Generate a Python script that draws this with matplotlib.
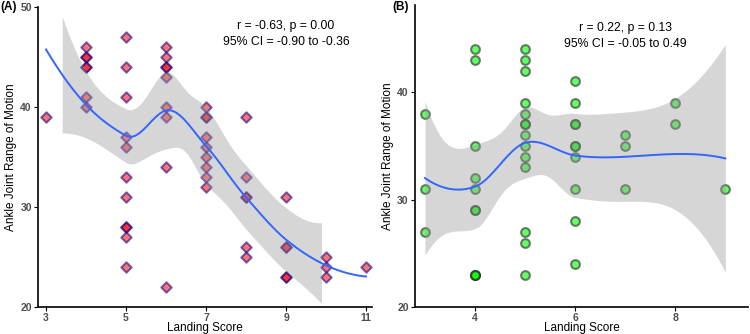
import numpy as np
import matplotlib
import matplotlib.pyplot as plt
from math import lgamma, pi, sqrt, exp

matplotlib.use('Agg')
plt.rcParams['font.family'] = ['Liberation Sans', 'DejaVu Sans']

# panel A: landing score vs ankle joint ROM
score_a = [3,
           4, 4, 4, 4, 4, 4, 4,
           5, 5, 5, 5, 5, 5, 5, 5, 5, 5, 5,
           6, 6, 6, 6, 6, 6, 6, 6, 6,
           7, 7, 7, 7, 7, 7, 7, 7, 7,
           8, 8, 8, 8, 8, 8,
           9, 9, 9, 9, 9,
           10, 10, 10,
           11]
rom_a = [39,
         46, 45, 45, 44, 44, 41, 40,
         47, 44, 41, 37, 36, 33, 31, 28, 28, 27, 24,
         46, 45, 44, 44, 43, 40, 39, 34, 22,
         40, 39, 39, 37, 36, 35, 34, 33, 32,
         39, 33, 31, 31, 26, 25,
         31, 26, 26, 23, 23,
         25, 24, 23,
         24]

# panel B
score_b = [3, 3, 3,
           4, 4, 4, 4, 4, 4, 4, 4, 4, 4,
           5, 5, 5, 5, 5, 5, 5, 5, 5, 5, 5, 5, 5, 5,
           6, 6, 6, 6, 6, 6, 6, 6, 6, 6,
           7, 7, 7,
           8, 8,
           9]
rom_b = [38, 31, 27,
         44, 43, 35, 32, 31, 29, 29, 23, 23, 23,
         44, 43, 42, 39, 38, 37, 37, 36, 35, 34, 33, 27, 26, 23,
         41, 39, 37, 37, 35, 35, 34, 31, 28, 24,
         36, 35, 31,
         39, 37,
         31]

stats_a = ['r = -0.63, p = 0.00', '95% CI = -0.90 to -0.36']
stats_b = ['r = 0.22, p = 0.13', '95% CI = -0.05 to 0.49']


def t_ppf(p, df):
    c = exp(lgamma((df + 1) / 2) - lgamma(df / 2)) / sqrt(df * pi)

    def cdf(t):
        g = np.linspace(0, t, 2001)
        return 0.5 + np.trapezoid(c * (1 + g ** 2 / df) ** (-(df + 1) / 2), g)
    lo, hi = 0.0, 20.0
    for _ in range(60):
        mid = (lo + hi) / 2
        if cdf(mid) < p:
            lo = mid
        else:
            hi = mid
    return (lo + hi) / 2


def kd_vertices(x, fc):
    # 1-d version of the loess kd tree: cells split at a tie-free median value
    xs = np.sort(x)
    mg = 0.005 * (xs[-1] - xs[0])
    verts = [xs[0] - mg, xs[-1] + mg]

    def split(l, u, vlo, vhi):
        if u - l + 1 <= fc:
            return
        m = (l + u + 2) // 2 - 1
        off = 0
        while not (m + off >= u or m + off < l):
            if xs[m + off] == xs[m + off + 1]:
                off = -off
                if off >= 0:
                    off += 1
            else:
                m = m + off
                break
        t = xs[m]
        if t == vlo or t == vhi:
            return
        verts.append(t)
        split(l, m, vlo, t)
        split(m + 1, u, t, vhi)

    split(0, len(xs) - 1, verts[0], verts[1])
    return np.unique(verts)


def loess(x, y, span=0.75):
    # loess (degree 2, tricube) with interpolated surface, like geom_smooth
    x = np.asarray(x, float)
    y = np.asarray(y, float)
    n = len(x)
    q = int(np.floor(n * span))

    def local(x0):
        d = np.abs(x - x0)
        h = np.sort(d)[q - 1] * 1.0001
        u = d / h
        w = np.where(u < 1, (1 - u ** 3) ** 3, 0.0)
        X = np.column_stack([np.ones(n), x - x0, (x - x0) ** 2])
        XtW = X.T * w
        B = np.linalg.solve(XtW @ X, XtW)
        return B[0], B[1]

    vt = kd_vertices(x, int(np.floor(n * span * 0.2)))
    rv, rs = zip(*[local(v) for v in vt])

    def row(x0):
        i = min(max(np.searchsorted(vt, x0) - 1, 0), len(vt) - 2)
        h = vt[i + 1] - vt[i]
        t = (x0 - vt[i]) / h
        return ((2 * t ** 3 - 3 * t ** 2 + 1) * rv[i] + (t ** 3 - 2 * t ** 2 + t) * h * rs[i]
                + (-2 * t ** 3 + 3 * t ** 2) * rv[i + 1] + (t ** 3 - t ** 2) * h * rs[i + 1])

    L = np.array([row(v) for v in x])
    res = y - L @ y
    M = (np.eye(n) - L).T @ (np.eye(n) - L)
    d1 = np.trace(M)
    d2 = np.trace(M @ M)
    s = sqrt(np.sum(res ** 2) / d1)
    tq = t_ppf(0.975, d1 ** 2 / d2)
    xs = np.linspace(x.min(), x.max(), 80)
    rows = np.array([row(v) for v in xs])
    fit = rows @ y
    se = s * np.sqrt(np.sum(rows ** 2, axis=1))
    return xs, fit, fit - tq * se, fit + tq * se


fig = plt.figure(figsize=(7.5, 3.34), dpi=100)
ax1 = fig.add_axes([0.0507, 0.0808, 0.4453, 0.898])
ax2 = fig.add_axes([0.5533, 0.0808, 0.4445, 0.904])

# A
ax1.scatter(score_a, rom_a, marker='D', s=28, facecolor=(1, 0, 0, 0.55),
            edgecolor=(0.1, 0.05, 0.55, 0.6), linewidth=1.5, zorder=2)
xs, fit, lo, hi = loess(score_a, rom_a)
ok = (hi <= 50) & (lo >= 20)
ax1.fill_between(xs, lo, hi, where=ok, color='#999999', alpha=0.4, lw=0, zorder=3)
ax1.plot(xs, fit, color='#3366FF', lw=1.4, zorder=4)
ax1.set_xlim(2.8, 11.15)
ax1.set_ylim(20, 50)
ax1.set_xticks([3, 5, 7, 9, 11])
ax1.set_yticks([20, 30, 40, 50])
ax1.text(9, 48.1, stats_a[0], ha='center', va='center', fontsize=8.8)
ax1.text(9, 46.5, stats_a[1], ha='center', va='center', fontsize=8.8)

# B
ax2.scatter(score_b, rom_b, marker='o', s=40, facecolor=(0, 1, 0, 0.6),
            edgecolor=(0.15, 0.15, 0.15, 0.6), linewidth=1.5, zorder=2)
xs, fit, lo, hi = loess(score_b, rom_b)
ax2.fill_between(xs, lo, hi, color='#999999', alpha=0.4, lw=0, zorder=3)
ax2.plot(xs, fit, color='#3366FF', lw=1.4, zorder=4)
ax2.set_xlim(2.8, 9.46)
ax2.set_ylim(20, 48.1)
ax2.set_xticks([4, 6, 8])
ax2.set_yticks([20, 30, 40])
ax2.text(7, 46.0, stats_b[0], ha='center', va='center', fontsize=8.8)
ax2.text(7, 44.5, stats_b[1], ha='center', va='center', fontsize=8.8)

for ax in (ax1, ax2):
    for side in ('top', 'right'):
        ax.spines[side].set_visible(False)
    for side in ('left', 'bottom'):
        ax.spines[side].set_linewidth(1.2)
    ax.tick_params(length=3, width=0.8, labelsize=7.5, labelcolor='#4D4D4D', pad=1.5)
    for lab in ax.get_xticklabels() + ax.get_yticklabels():
        lab.set_fontweight('bold')
    ax.set_xlabel('Landing Score', fontsize=8.5)
    ax.set_ylabel('Ankle Joint Range of Motion', fontsize=8.5)
    ax.xaxis.set_label_coords(0.5, -0.05)
    ax.yaxis.set_label_coords(-0.062, 0.5)

fig.text(0.001, 1 - 7 / 334, '(A)', fontsize=8.5, fontweight='bold', va='center')
fig.text(392 / 750, 1 - 7 / 334, '(B)', fontsize=8.5, fontweight='bold', va='center')

plt.savefig('out.png', dpi=100)
